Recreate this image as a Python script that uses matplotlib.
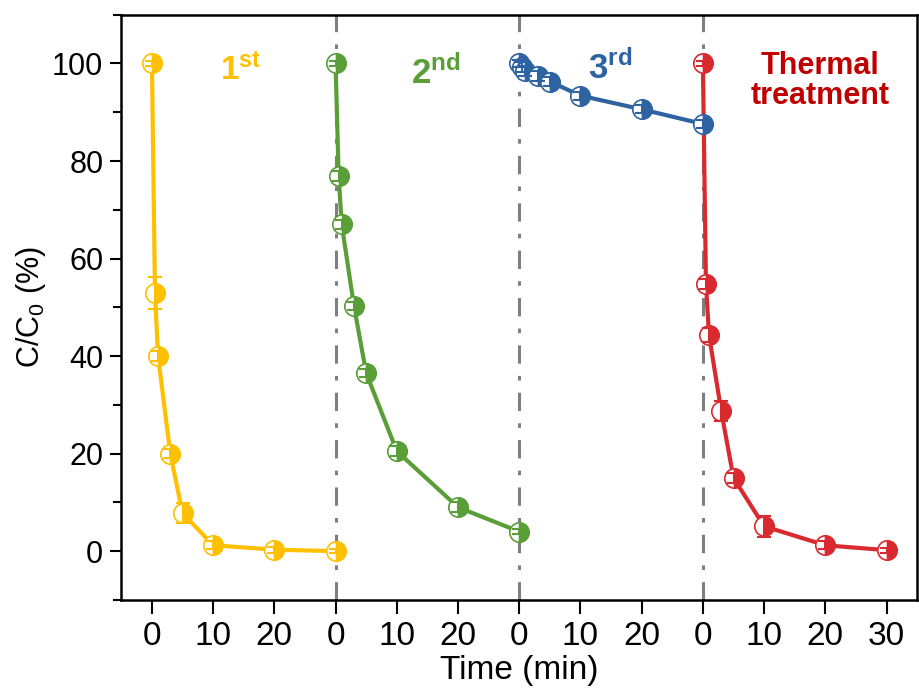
import matplotlib.pyplot as plt
from matplotlib.ticker import MultipleLocator

plt.rcParams['font.family'] = ['Liberation Sans', 'DejaVu Sans']
plt.rcParams['mathtext.fontset'] = 'custom'
plt.rcParams['mathtext.rm'] = 'Liberation Sans'
plt.rcParams['mathtext.bf'] = 'Liberation Sans:bold'

# sampling times within one run (min); runs are laid end to end, 30 min apart
times = [0, 0.5, 1, 3, 5, 10, 20, 30]
offsets = [0, 30, 60, 90]

run1 = [100, 53, 40, 20, 7.8, 1.2, 0.3, 0.0]
err1 = [0.5, 3.3, 1.0, 1.0, 2.0, 0.8, 0.6, 0.4]
run2 = [100, 77, 67, 50.3, 36.5, 20.5, 9.0, 4.0]
err2 = [0.5, 1.0, 1.0, 0.8, 0.8, 1.0, 1.0, 0.5]
run3 = [100, 99.2, 98.4, 97.4, 96.3, 93.4, 90.6, 87.6]
err3 = [0.8, 1.0, 1.0, 1.0, 1.0, 0.8, 0.8, 0.8]
run4 = [100, 54.8, 44.3, 28.7, 15.0, 5.1, 1.2, 0.2]
err4 = [0.5, 1.0, 1.5, 2.0, 1.0, 2.1, 0.8, 0.5]

runs = [run1, run2, run3, run4]
errs = [err1, err2, err3, err4]
colors = ['#FFC000', '#5A9E38', '#2E63A2', '#D92B2F']

xtick_pos = list(range(0, 121, 10))
xtick_labels = ['0', '10', '20', '0', '10', '20', '0', '10', '20', '0', '10', '20', '30']

fig = plt.figure(figsize=(9.19, 7.0), dpi=100)
ax = fig.add_axes([0.132, 0.143, 0.866, 0.836])

for b in offsets[1:]:
    ax.axvline(b, color='#7F7F7F', lw=2.2, ls=(0, (6, 4, 1.5, 4)), zorder=1)

for off, y, e, c in zip(offsets, runs, errs, colors):
    x = [t + off for t in times]
    ax.plot(x, y, '-', color=c, lw=3, zorder=2)
    ax.plot(x, y, 'o', ms=14, fillstyle='right', markerfacecolor=c,
            markerfacecoloralt='white', markeredgecolor=c, mew=1.2, zorder=3)
    ax.errorbar(x, y, yerr=e, fmt='none', ecolor=c, elinewidth=1.5,
                capsize=5, capthick=1.5, zorder=4)

ax.text(14.5, 98.5, r'$\mathbf{1^{st}}$', color='#FFC000', fontsize=24,
        ha='center', va='center')
ax.text(46.3, 98, r'$\mathbf{2^{nd}}$', color='#5A9E38', fontsize=25,
        ha='center', va='center')
ax.text(74.8, 99, r'$\mathbf{3^{rd}}$', color='#2E63A2', fontsize=25,
        ha='center', va='center')
ax.text(109.2, 96.5, 'Thermal\ntreatment', color='#C00000', fontsize=22,
        fontweight='bold', ha='center', va='center', linespacing=1.0)

ax.set_xlim(-5, 125)
ax.set_ylim(-10, 110)
ax.set_xticks(xtick_pos)
ax.set_xticklabels(xtick_labels)
ax.yaxis.set_major_locator(MultipleLocator(20))
ax.yaxis.set_minor_locator(MultipleLocator(10))
ax.set_yticks([0, 20, 40, 60, 80, 100])

ax.tick_params(axis='x', direction='out', length=10, width=1.5, labelsize=24, pad=5)
ax.tick_params(axis='y', which='major', direction='out', length=8, width=1.5,
               labelsize=22, pad=5)
ax.tick_params(axis='y', which='minor', direction='out', length=6, width=1.5)
for s in ax.spines.values():
    s.set_linewidth(1.8)

ax.set_xlabel('Time (min)', fontsize=24, labelpad=2)
ax.set_ylabel(r'C/C$_\mathrm{0}$ (%)', fontsize=22, labelpad=3)

fig.savefig('out.png', dpi=100)
